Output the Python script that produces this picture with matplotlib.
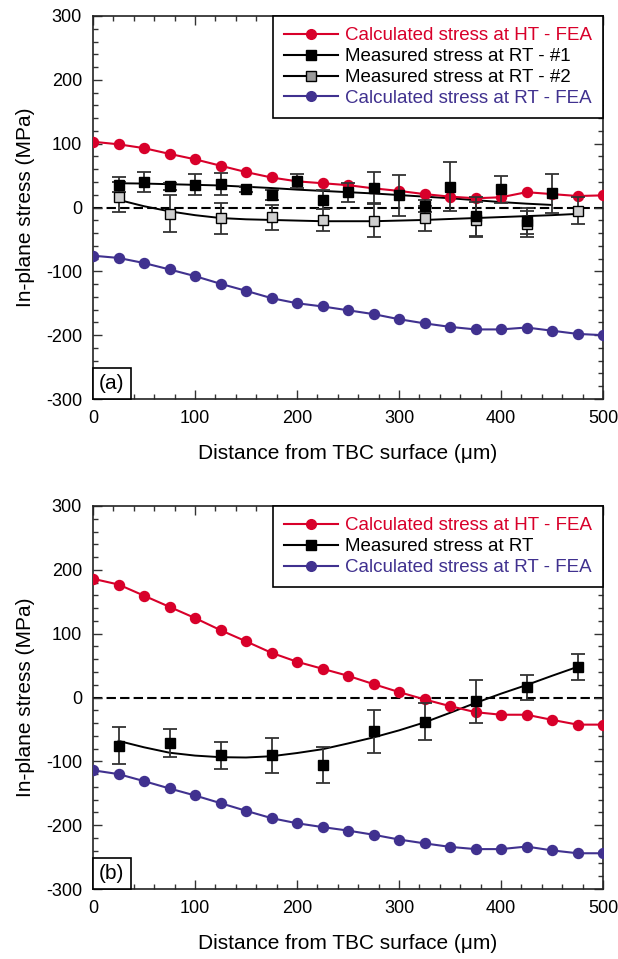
import numpy as np
import matplotlib
matplotlib.use("Agg")
import matplotlib.pyplot as plt
from matplotlib.lines import Line2D
from matplotlib.ticker import MultipleLocator
from matplotlib.offsetbox import AnchoredText

plt.rcParams['font.family'] = ['Liberation Sans', 'DejaVu Sans']
plt.rcParams['font.size'] = 13
plt.rcParams['axes.unicode_minus'] = False

# ---------------- data ----------------
x_fea = [0, 25, 50, 75, 100, 125, 150, 175, 200, 225, 250,
         275, 300, 325, 350, 375, 400, 425, 450, 475, 500]

# panel (a)
a_ht = [103, 99, 93, 84, 75.5, 65.5, 55.5, 47, 41, 38, 35,
        30, 26, 21, 17, 14.5, 16, 24, 21, 18, 19]
a_rt = [-75.5, -79, -87, -97, -107.5, -119.5, -130.5, -142, -150, -155, -161,
        -167, -175, -181.5, -187, -191, -191, -188, -193, -198, -200]

a_m1_x = [25, 50, 75, 100, 125, 150, 175, 200, 225, 250,
          275, 300, 325, 350, 375, 400, 425, 450]
a_m1 = [36, 40, 33, 36, 37, 28.5, 19, 41.5, 12.5, 24,
        31, 19, 2.5, 32.5, -14, 28.5, -21, 22]
a_m1_err = [12, 16, 5, 17, 17.5, 4, 8, 11, 15, 15,
            24.5, 32, 9, 38, 30, 21, 20, 30]
a_fit1 = [38, 37.5, 36.5, 35.5, 34.5, 32.5, 30.5, 28, 26, 24,
          22, 19.5, 17, 14.5, 11.5, 8.5, 6, 4]

a_m2_x = [25, 75, 125, 175, 225, 275, 325, 375, 425, 475]
a_m2 = [16.5, -10, -17, -15.5, -20, -20.5, -17, -19, -26, -5]
a_m2_err = [23, 29, 24, 20, 17, 26, 20, 27, 20, 21]
a_fit2_x = [25, 50, 75, 100, 125, 150, 175, 200, 225, 250,
            275, 300, 325, 350, 375, 400, 425, 450, 475]
a_fit2 = [12, 2, -6, -12, -16.5, -18.5, -19.5, -20.5, -21.5, -21.5,
          -21.5, -20.5, -19.5, -18, -16.5, -15, -13.5, -12, -10]

# panel (b)
b_ht = [186, 177, 159.5, 142, 124.5, 105.5, 88, 70, 56, 45, 34,
        21, 8.5, -3, -13.5, -23, -27, -27, -35, -42.5, -42.5]
b_rt = [-114, -120, -131, -142.5, -153.5, -165.5, -177.5, -189, -197, -203, -208.5,
        -215, -222.5, -228.5, -234, -237.5, -237.5, -233.5, -239.5, -244, -244]

b_m_x = [25, 75, 125, 175, 225, 275, 325, 375, 425, 475]
b_m = [-75.5, -71.5, -90.5, -90.5, -106, -53, -38, -6, 16, 47.5]
b_m_err = [29, 22, 21, 27, 28, 34, 29, 34, 20, 20]
b_fit_x = [25, 50, 75, 100, 125, 150, 175, 200, 225, 250,
           275, 300, 325, 350, 375, 400, 425, 450, 475]
b_fit = [-68, -78, -86.5, -91, -93.5, -94, -92, -87, -81, -72,
         -62.5, -51.5, -39, -24, -8.5, 6, 19.5, 34, 48]

RED = '#d8002a'
BLUE = '#40318f'
GRAY_FILL = '#cfcfcf'
ERR = '#333333'

fig = plt.figure(figsize=(6.18, 9.59), dpi=100)
ax_a = fig.add_axes([93 / 618, 1 - 399 / 959, 510 / 618, 383 / 959])
ax_b = fig.add_axes([93 / 618, 1 - 889 / 959, 510 / 618, 383 / 959])


def style_axes(ax, tag):
    ax.set_xlim(0, 500)
    ax.set_ylim(-300, 300)
    ax.xaxis.set_major_locator(MultipleLocator(100))
    ax.xaxis.set_minor_locator(MultipleLocator(20))
    ax.yaxis.set_major_locator(MultipleLocator(100))
    ax.yaxis.set_minor_locator(MultipleLocator(20))
    ax.tick_params(which='both', direction='in', top=True, right=True,
                   width=1.0, color='#333333', labelsize=13, pad=8)
    ax.tick_params(which='major', length=6.5)
    ax.tick_params(which='minor', length=3.5)
    for s in ax.spines.values():
        s.set_linewidth(1.2)
        s.set_color('#222222')
    ax.axhline(0, color='black', lw=1.5, ls=(0, (4.5, 2)), zorder=1)
    ax.set_xlabel('Distance from TBC surface (μm)', fontsize=15, labelpad=12)
    ax.set_ylabel('In-plane stress (MPa)', fontsize=15, labelpad=8)
    at = AnchoredText(tag, loc='lower left', frameon=True, pad=0.3,
                      borderpad=0, prop=dict(size=15))
    at.patch.set_boxstyle('square,pad=0')
    at.patch.set_linewidth(1.2)
    at.patch.set_edgecolor('black')
    at.set_zorder(10)
    ax.add_artist(at)


def fea_line(ax, y, color):
    ax.plot(x_fea, y, color=color, lw=1.5, marker='o', ms=7.2,
            mec=color, mfc=color, zorder=3)


def measured(ax, x, y, err, fc, ms):
    ax.errorbar(x, y, yerr=err, fmt='none', ecolor=ERR, elinewidth=1.3,
                capsize=5, capthick=1.3, zorder=4)
    ax.plot(x, y, ls='none', marker='s', ms=ms, mfc=fc, mec='black',
            mew=1.0, zorder=5)


def legend(ax, entries):
    handles = []
    colors = []
    for label, color, mk, mfc in entries:
        handles.append(Line2D([], [], color=color if mk == 'o' else 'black',
                              lw=1.5, marker=mk, ms=7 if mk == 'o' else 6.5,
                              mfc=mfc, mec=color if mk == 'o' else 'black',
                              label=label))
        colors.append(color)
    leg = ax.legend(handles=handles, loc='upper right', borderaxespad=0,
                    frameon=True, fancybox=False, framealpha=1,
                    edgecolor='black', fontsize=13.5, handlelength=2.9,
                    handletextpad=0.35, labelspacing=0.2, borderpad=0.6)
    leg.get_frame().set_linewidth(1.2)
    for t, c in zip(leg.get_texts(), colors):
        t.set_color(c)


# panel (a)
style_axes(ax_a, '(a)')
fea_line(ax_a, a_ht, RED)
fea_line(ax_a, a_rt, BLUE)
ax_a.plot(a_m1_x, a_fit1, color='black', lw=1.4, zorder=2)
ax_a.plot(a_fit2_x, a_fit2, color='black', lw=1.4, zorder=2)
measured(ax_a, a_m2_x, a_m2, a_m2_err, GRAY_FILL, 6.5)
measured(ax_a, a_m1_x, a_m1, a_m1_err, 'black', 7.5)
legend(ax_a, [('Calculated stress at HT - FEA', RED, 'o', RED),
              ('Measured stress at RT - #1', 'black', 's', 'black'),
              ('Measured stress at RT - #2', 'black', 's', '#9a9a9a'),
              ('Calculated stress at RT - FEA', BLUE, 'o', BLUE)])

# panel (b)
style_axes(ax_b, '(b)')
fea_line(ax_b, b_ht, RED)
fea_line(ax_b, b_rt, BLUE)
ax_b.plot(b_fit_x, b_fit, color='black', lw=1.4, zorder=2)
measured(ax_b, b_m_x, b_m, b_m_err, 'black', 7.5)
legend(ax_b, [('Calculated stress at HT - FEA', RED, 'o', RED),
              ('Measured stress at RT', 'black', 's', 'black'),
              ('Calculated stress at RT - FEA', BLUE, 'o', BLUE)])

fig.savefig('out.png', dpi=100)
